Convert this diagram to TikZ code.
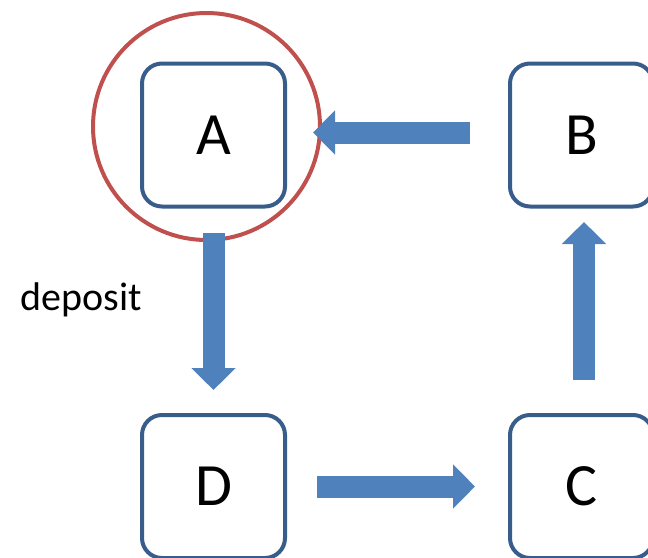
\documentclass[tikz,border=0pt]{standalone}
\usepackage{fontspec}
\setmainfont{Carlito}
\usetikzlibrary{arrows.meta}
\definecolor{boxblue}{RGB}{56,93,138}
\definecolor{flowblue}{RGB}{79,129,189}
\definecolor{ringred}{RGB}{192,80,77}

\begin{document}
\begin{tikzpicture}[x=1pt,y=-1pt,
    station/.style={draw=boxblue, line width=4pt, rounded corners=20pt, minimum size=143pt, inner sep=0pt, font=\fontsize{60}{60}\selectfont},
    flow/.style={draw=flowblue, line width=22pt, -{Triangle[width=43pt,length=22pt]}}]
    \useasboundingbox (0,0) rectangle (648,557);
    \node[station] (A) at (213.5,135) {A};
    \node[station] (B) at (581.5,135) {B};
    \node[station] (C) at (581.5,486.5) {C};
    \node[station] (D) at (213.5,486.5) {D};
    % marker round A
    \draw[ringred, line width=4pt] (206.5,126.5) circle (113.5pt);
    \node (dep) at (81.5,310) [anchor=base, font=\fontsize{40}{40}\selectfont] {deposit};
    % the cycle
    \draw[flow, shorten <=24.5pt, shorten >=23pt] (A) -- (D);
    \draw[flow, shorten <=30pt, shorten >=33pt] (D) -- (C);
    \draw[flow, shorten <=33pt, shorten >=13.5pt] ([xshift=2.5pt]C.north) -- ([xshift=2.5pt]B.south);
    \draw[flow, shorten <=38pt, shorten >=26pt] ([yshift=2.5pt]B.west) -- ([yshift=2.5pt]A.east);
\end{tikzpicture}
\end{document}
